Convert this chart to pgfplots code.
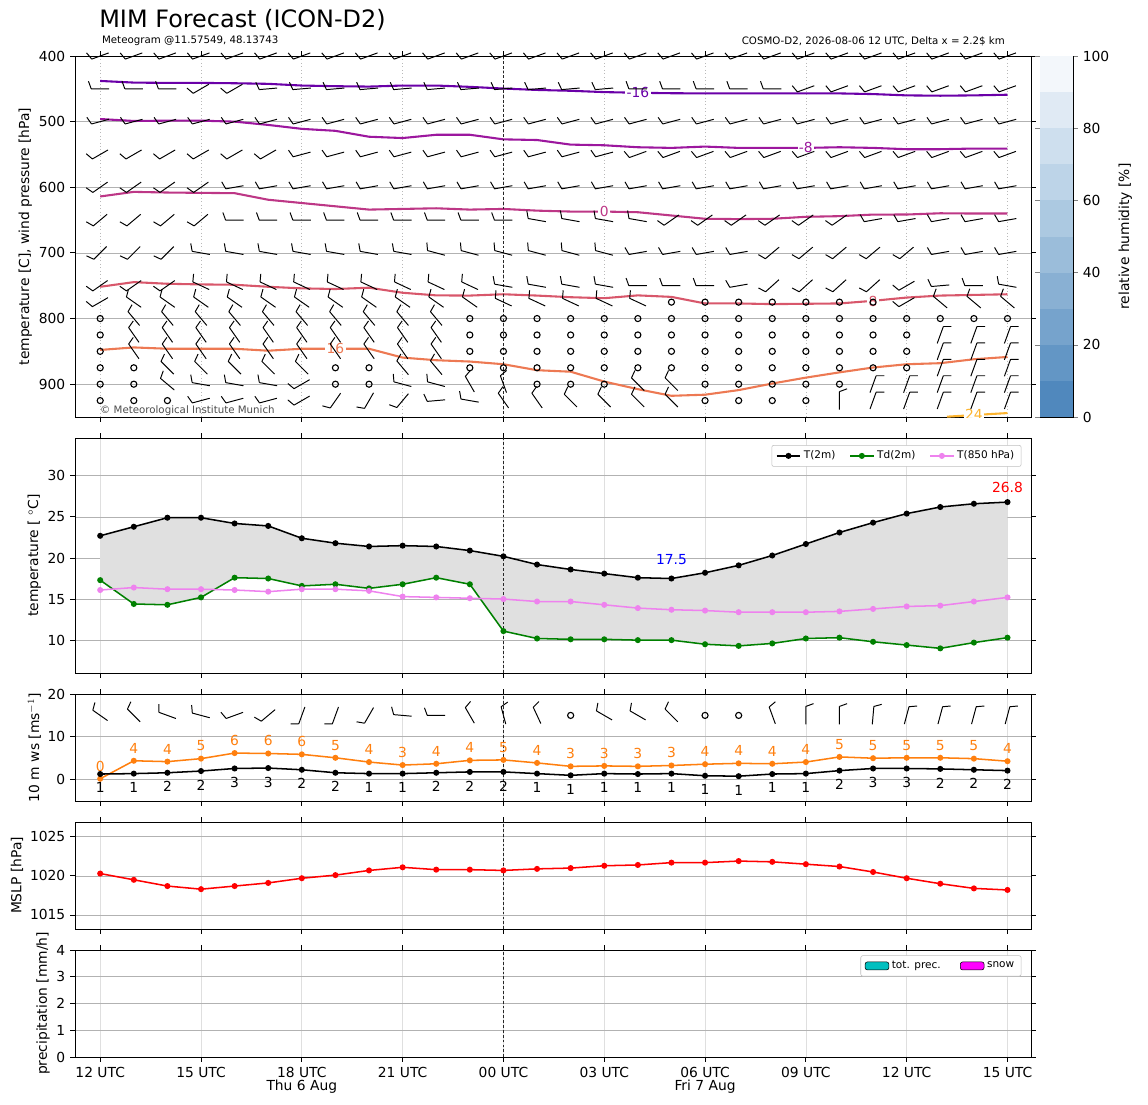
\documentclass[border=0pt]{standalone}
\usepackage{pgfplots}
\pgfplotsset{compat=1.18}
\usepgfplotslibrary{fillbetween}
\usepackage{fontspec}
\setmainfont{DejaVu Sans}
\definecolor{cm16}{HTML}{6A00A8}
\definecolor{cm8}{HTML}{9C179E}
\definecolor{c0}{HTML}{BD3786}
\definecolor{c8}{HTML}{D8576B}
\definecolor{c16}{HTML}{ED7953}
\definecolor{c24}{HTML}{FDB42F}
\definecolor{mplorange}{HTML}{FF7F0E}
\definecolor{mplgreen}{HTML}{008000}
\definecolor{violet2}{HTML}{EE82EE}
\definecolor{pmag}{rgb}{1,0,1}
\pgfdeclareplotmark{barb}{%
  \pgfpathmoveto{\pgfqpoint{-6.5pt}{0pt}}\pgfpathlineto{\pgfqpoint{6.5pt}{0pt}}%
  \pgfpathmoveto{\pgfqpoint{-6.5pt}{0pt}}\pgfpathlineto{\pgfqpoint{-8.5pt}{5.5pt}}%
  \pgfusepathqstroke}
\pgfplotsset{
  mm/.style={scale only axis, width=688.32bp, anchor=north west,
    xmin=-0.75, xmax=27.7, xtick={0,3,...,27}, xticklabels={},
    tick align=outside, major tick length=3.5bp,
    tick style={black, line width=0.6bp},
    xmajorgrids, ymajorgrids,
    x grid style={gray!25, line width=0.5bp},
    y grid style={gray!60, line width=0.55bp},
    axis line style={line width=0.6bp},
    tick label style={font=\fontsize{10}{12}\selectfont},
    label style={font=\fontsize{10}{12}\selectfont},
    /pgf/number format/assume math mode=true,
    ylabel style={yshift=-2bp},
  },
  vdash/.style={black!85, line width=0.4bp, dash pattern=on 2bp off 1.5bp, forget plot},
  barbs/.style={scatter, only marks, mark=barb, line width=0.7bp,
    scatter/use mapped color={draw=black, fill=black},
    visualization depends on={\thisrow{a} \as \ang},
    scatter/@pre marker code/.append code={\pgftransformrotate{\ang}}},
  calm/.style={only marks, mark=o, mark size=2.2bp, black, mark options={line width=0.8bp}},
}
\begin{document}
\begin{tikzpicture}[font=\fontsize{10}{12}\selectfont]
\path (0,0) rectangle (826.56bp,-795.6bp);
\node[anchor=west, font=\fontsize{17.3}{20}\selectfont] at (68bp,-14.5bp) {MIM Forecast (ICON-D2)};
\node[anchor=west, font=\fontsize{7.4}{9}\selectfont] at (70bp,-29.5bp) {Meteogram @11.57549, 48.13743};
\node[anchor=east, font=\fontsize{7.4}{9}\selectfont] at (727bp,-29.5bp) {COSMO-D2, 2026-08-06 12 UTC, Delta x = 2.2\$ km};
% ---------------- panel 1
\begin{axis}[mm, at={(54bp,-40.32bp)}, height=259.92bp,
  x grid style={gray!55, dotted, line width=0.5bp},
  y dir=reverse, ymin=400, ymax=950, ytick={400,500,...,900},
  ylabel={temperature [C], wind pressure [hPa]}]
\addplot[barbs] table[row sep=\\]{t p a\\
0 400 20\\1 400 20\\2 400 20\\3 400 20\\4 400 20\\5 400 20\\6 400 20\\7 400 20\\8 400 20\\9 400 20\\10 400 20\\11 400 20\\12 400 20\\13 400 20\\14 400 20\\15 400 20\\16 400 20\\17 400 20\\18 400 20\\19 400 20\\20 400 20\\21 400 20\\22 400 20\\23 400 20\\24 400 20\\25 400 20\\26 400 20\\27 400 20\\
0 450 0\\1 450 0\\2 450 0\\3 450 30\\4 450 30\\5 450 5\\6 450 5\\7 450 5\\8 450 5\\9 450 5\\10 450 5\\11 450 5\\12 450 5\\13 450 5\\14 450 5\\15 450 5\\16 450 0\\17 450 0\\18 450 0\\19 450 0\\20 450 0\\21 450 20\\22 450 20\\23 450 20\\24 450 20\\25 450 20\\26 450 20\\27 450 20\\
0 500 15\\1 500 15\\2 500 15\\3 500 15\\4 500 15\\5 500 15\\6 500 15\\7 500 15\\8 500 15\\9 500 15\\10 500 15\\11 500 15\\12 500 15\\13 500 15\\14 500 15\\15 500 15\\16 500 15\\17 500 15\\18 500 15\\19 500 15\\20 500 15\\21 500 15\\22 500 15\\23 500 15\\24 500 15\\25 500 15\\26 500 15\\27 500 15\\
0 550 30\\1 550 30\\2 550 30\\3 550 30\\4 550 30\\5 550 30\\6 550 15\\7 550 15\\8 550 15\\9 550 15\\10 550 15\\11 550 15\\12 550 15\\13 550 15\\14 550 15\\15 550 15\\16 550 20\\17 550 20\\18 550 20\\19 550 20\\20 550 20\\21 550 20\\22 550 20\\23 550 20\\24 550 20\\25 550 20\\26 550 20\\27 550 20\\
0 600 35\\1 600 35\\2 600 35\\3 600 35\\4 600 10\\5 600 10\\6 600 10\\7 600 10\\8 600 10\\9 600 10\\10 600 10\\11 600 10\\12 600 10\\13 600 10\\14 600 10\\15 600 10\\16 600 10\\17 600 10\\18 600 10\\19 600 10\\20 600 10\\21 600 10\\22 600 10\\23 600 10\\24 600 10\\25 600 10\\26 600 10\\27 600 10\\
0 650 40\\1 650 40\\2 650 40\\3 650 40\\4 650 0\\5 650 0\\6 650 0\\7 650 0\\8 650 0\\9 650 0\\10 650 0\\11 650 0\\12 650 0\\13 650 -10\\14 650 -10\\15 650 -10\\16 650 -10\\17 650 35\\18 650 35\\19 650 35\\20 650 35\\21 650 35\\22 650 35\\23 650 10\\24 650 10\\25 650 10\\26 650 10\\27 650 10\\
0 700 45\\1 700 45\\2 700 45\\3 700 -10\\4 700 -10\\5 700 -10\\6 700 -10\\7 700 -10\\8 700 -10\\9 700 -10\\10 700 -15\\11 700 -15\\12 700 -15\\13 700 -15\\14 700 -15\\15 700 -15\\16 700 10\\17 700 10\\18 700 10\\19 700 10\\20 700 40\\21 700 40\\22 700 40\\23 700 40\\24 700 40\\25 700 10\\26 700 10\\27 700 10\\
0 750 35\\1 750 35\\2 750 35\\3 750 -25\\4 750 -25\\5 750 -25\\6 750 -25\\7 750 -25\\8 750 -25\\9 750 -25\\10 750 -25\\11 750 -25\\12 750 -10\\13 750 -10\\14 750 -10\\15 750 -10\\16 750 0\\17 750 0\\18 750 0\\19 750 10\\20 750 42\\21 750 42\\22 750 42\\23 750 42\\24 750 30\\25 750 5\\26 750 0\\27 750 -10\\
0 775 30\\1 775 -35\\2 775 -35\\3 775 -35\\4 775 -35\\5 775 -35\\6 775 -35\\7 775 -35\\8 775 -35\\9 775 -35\\10 775 -35\\11 775 -35\\12 775 -25\\13 775 -25\\14 775 -25\\15 775 -25\\16 775 -25\\24 775 30\\25 775 -40\\26 775 -40\\27 775 -40\\
1 800 -50\\2 800 -50\\3 800 -50\\4 800 -50\\5 800 -50\\6 800 -50\\7 800 -50\\8 800 -50\\9 800 -50\\10 800 -50\\
1 825 -55\\2 825 -55\\3 825 -55\\4 825 -55\\5 825 -55\\6 825 -55\\7 825 -55\\8 825 -55\\9 825 -55\\10 825 -55\\25 825 250\\26 825 250\\27 825 250\\
1 850 -55\\2 850 -55\\3 850 -55\\4 850 -55\\5 850 -55\\6 850 -55\\7 850 -55\\8 850 -55\\9 850 -55\\10 850 -55\\25 850 250\\26 850 250\\27 850 250\\
2 875 -45\\3 875 -45\\4 875 -45\\5 875 -45\\6 875 -45\\9 875 -50\\10 875 -50\\25 875 250\\26 875 250\\27 875 250\\
2 900 -40\\3 900 -10\\4 900 -10\\5 900 -10\\6 900 30\\9 900 -15\\10 900 -15\\11 900 -60\\12 900 -70\\16 900 -45\\17 900 -45\\23 900 250\\24 900 250\\25 900 250\\26 900 250\\27 900 250\\
3 925 15\\4 925 15\\5 925 15\\6 925 30\\7 925 55\\8 925 60\\9 925 50\\10 925 5\\11 925 -10\\12 925 -55\\13 925 -55\\14 925 -45\\15 925 -45\\16 925 -45\\17 925 -45\\22 925 270\\23 925 250\\24 925 250\\25 925 250\\26 925 250\\27 925 250\\
};
\addplot[calm] table[row sep=\\]{t p\\
17 775\\18 775\\19 775\\20 775\\21 775\\22 775\\23 775\\
0 800\\11 800\\12 800\\13 800\\14 800\\15 800\\16 800\\17 800\\18 800\\19 800\\20 800\\21 800\\22 800\\23 800\\24 800\\25 800\\26 800\\27 800\\
0 825\\11 825\\12 825\\13 825\\14 825\\15 825\\16 825\\17 825\\18 825\\19 825\\20 825\\21 825\\22 825\\23 825\\24 825\\
0 850\\11 850\\12 850\\13 850\\14 850\\15 850\\16 850\\17 850\\18 850\\19 850\\20 850\\21 850\\22 850\\23 850\\24 850\\
0 875\\1 875\\7 875\\8 875\\11 875\\12 875\\13 875\\14 875\\15 875\\16 875\\17 875\\18 875\\19 875\\20 875\\21 875\\22 875\\23 875\\24 875\\
0 900\\1 900\\7 900\\8 900\\13 900\\14 900\\15 900\\18 900\\19 900\\20 900\\21 900\\22 900\\
0 925\\1 925\\2 925\\18 925\\19 925\\20 925\\21 925\\
};
\addplot[cm16, line width=1.5bp] coordinates {(0,438)(1,440.5)(2,441)(3,441)(4,441.5)(5,442.4)(6,445)(7,446)(8,446.6)(9,445)(10,445)(11,447)(12,449.6)(13,451.7)(14,453)(15,455)(16,456)(17,456.7)(18,457)(19,457)(20,457)(21,457)(22,457)(23,458)(24,460)(25,460.5)(26,460)(27,459)};
\addplot[cm8, line width=1.5bp] coordinates {(0,496)(1,499)(2,498.5)(3,498.5)(4,500)(5,505)(6,511)(7,514)(8,523)(9,525)(10,520)(11,520)(12,527)(13,528)(14,535)(15,536)(16,539)(17,540)(18,538)(19,540)(20,540)(21,540)(22,539)(23,540)(24,542)(25,542)(26,541)(27,541)};
\addplot[c0, line width=1.5bp] coordinates {(0,614)(1,607)(2,608)(3,608.5)(4,609)(5,619)(6,624)(7,629)(8,634)(9,633)(10,632)(11,634)(12,633)(13,635.6)(14,637)(15,637)(16,638)(17,643)(18,648)(19,648.5)(20,648)(21,645)(22,644)(23,641.6)(24,641.5)(25,639.6)(26,640)(27,640)};
\addplot[c8, line width=1.5bp] coordinates {(0,751.6)(1,744.5)(2,747)(3,748)(4,748.5)(5,751.6)(6,754)(7,755)(8,753)(9,760.7)(10,764.7)(11,765)(12,763)(13,765)(14,767.5)(15,769)(16,764.7)(17,767)(18,777)(19,777)(20,778)(21,777.5)(22,777)(23,773)(24,768)(25,765)(26,764)(27,763)};
\addplot[c16, line width=1.5bp] coordinates {(0,847.8)(1,844)(2,846)(3,846)(4,846)(5,849)(6,846)(7,846)(8,846)(9,859.5)(10,863.5)(11,865.5)(12,869.6)(13,878.7)(14,881)(15,896)(16,907.6)(17,917.7)(18,916)(19,909)(20,899)(21,890)(22,882)(23,874.6)(24,869.6)(25,868)(26,862)(27,858.5)};
\addplot[c24, line width=1.5bp] coordinates {(25.2,949.5)(26,947)(27,944)};
\node[fill=white, inner sep=1pt, text=cm16] at (axis cs:16,456) {-16};
\node[fill=white, inner sep=1pt, text=cm8] at (axis cs:21,540) {-8};
\node[fill=white, inner sep=1pt, text=c0] at (axis cs:15,637) {0};
\node[fill=white, inner sep=1pt, text=c8] at (axis cs:23,774) {8};
\node[fill=white, inner sep=1pt, text=c16] at (axis cs:7,846) {16};
\node[fill=white, inner sep=1pt, text=c24] at (axis cs:26,946) {24};
\addplot[vdash] coordinates {(12,400)(12,950)};
\node[anchor=south west, text=black!70, font=\fontsize{7.4}{9}\selectfont, inner sep=1pt] at (axis cs:-0.05,950) {© Meteorological Institute Munich};
\end{axis}
% colorbar
\begin{axis}[scale only axis, anchor=north west, at={(748.8bp,-40.32bp)}, width=23.76bp, height=259.92bp,
  xmin=0, xmax=1, ymin=0, ymax=100, xtick=\empty, ytick={0,20,...,100},
  yticklabel pos=right, ylabel={relative humidity [\%]}, ylabel near ticks,
  tick align=outside, major tick length=3.5bp, axis line style={line width=0.6bp},
  tick label style={font=\fontsize{10}{12}\selectfont}, label style={font=\fontsize{10}{12}\selectfont},
  /pgf/number format/assume math mode=true]
\addplot[fill={rgb,255:red,80;green,136;blue,189}, draw=none] coordinates {(0,0)(1,0)(1,10)(0,10)} -- cycle;
\addplot[fill={rgb,255:red,99;green,150;blue,197}, draw=none] coordinates {(0,10)(1,10)(1,20)(0,20)} -- cycle;
\addplot[fill={rgb,255:red,118;green,163;blue,204}, draw=none] coordinates {(0,20)(1,20)(1,30)(0,30)} -- cycle;
\addplot[fill={rgb,255:red,137;green,176;blue,211}, draw=none] coordinates {(0,30)(1,30)(1,40)(0,40)} -- cycle;
\addplot[fill={rgb,255:red,155;green,189;blue,218}, draw=none] coordinates {(0,40)(1,40)(1,50)(0,50)} -- cycle;
\addplot[fill={rgb,255:red,172;green,201;blue,225}, draw=none] coordinates {(0,50)(1,50)(1,60)(0,60)} -- cycle;
\addplot[fill={rgb,255:red,189;green,212;blue,232}, draw=none] coordinates {(0,60)(1,60)(1,70)(0,70)} -- cycle;
\addplot[fill={rgb,255:red,206;green,223;blue,238}, draw=none] coordinates {(0,70)(1,70)(1,80)(0,80)} -- cycle;
\addplot[fill={rgb,255:red,224;green,234;blue,244}, draw=none] coordinates {(0,80)(1,80)(1,90)(0,90)} -- cycle;
\addplot[fill={rgb,255:red,243;green,247;blue,251}, draw=none] coordinates {(0,90)(1,90)(1,100)(0,100)} -- cycle;
\end{axis}
% ---------------- panel 2
\begin{axis}[mm, at={(54bp,-315.36bp)}, height=169.2bp,
  ymin=6, ymax=34.6, ytick={10,15,...,30},
  ylabel={temperature [ $^\circ$C]},
  legend style={at={(0.99,0.97)}, anchor=north east, font=\fontsize{7.6}{9}\selectfont, legend columns=3, /tikz/every even column/.append style={column sep=8bp}, draw=gray!50, rounded corners=1.5bp}]
\addplot[black, line width=1.1bp, mark=*, mark size=1.6bp, name path=T] coordinates {(0,22.7)(1,23.8)(2,24.9)(3,24.9)(4,24.2)(5,23.9)(6,22.4)(7,21.8)(8,21.4)(9,21.5)(10,21.4)(11,20.9)(12,20.2)(13,19.2)(14,18.6)(15,18.1)(16,17.6)(17,17.5)(18,18.2)(19,19.1)(20,20.3)(21,21.7)(22,23.1)(23,24.3)(24,25.4)(25,26.2)(26,26.6)(27,26.8)};
\addlegendentry{T(2m)}
\addplot[mplgreen, line width=1.1bp, mark=*, mark size=1.6bp, name path=Td] coordinates {(0,17.3)(1,14.4)(2,14.3)(3,15.2)(4,17.6)(5,17.5)(6,16.6)(7,16.8)(8,16.3)(9,16.8)(10,17.6)(11,16.8)(12,11.1)(13,10.2)(14,10.1)(15,10.1)(16,10.0)(17,10.0)(18,9.5)(19,9.3)(20,9.6)(21,10.2)(22,10.3)(23,9.8)(24,9.4)(25,9.0)(26,9.7)(27,10.3)};
\addlegendentry{Td(2m)}
\addplot[violet2, line width=1.1bp, mark=*, mark size=1.6bp] coordinates {(0,16.1)(1,16.4)(2,16.2)(3,16.2)(4,16.1)(5,15.9)(6,16.2)(7,16.2)(8,16.0)(9,15.3)(10,15.2)(11,15.1)(12,15.0)(13,14.7)(14,14.7)(15,14.3)(16,13.9)(17,13.7)(18,13.6)(19,13.4)(20,13.4)(21,13.4)(22,13.5)(23,13.8)(24,14.1)(25,14.2)(26,14.7)(27,15.2)};
\addlegendentry{T(850 hPa)}
\addplot[black!12] fill between[of=T and Td];
\addplot[vdash] coordinates {(12,6)(12,34.6)};
\node[text=red] at (axis cs:27,28.6) {26.8};
\node[text=blue] at (axis cs:17,19.8) {17.5};
\end{axis}
% ---------------- panel 3
\begin{axis}[mm, at={(54bp,-499.68bp)}, height=77.04bp,
  ymin=-5, ymax=20, ytick={0,10,20}, ylabel={10 m ws [ms$^{-1}$]}]
\addplot[mplorange, line width=1.1bp, mark=*, mark size=1.6bp,
  nodes near coords, point meta=explicit symbolic,
  nodes near coords style={anchor=south, yshift=1.5bp, text=mplorange, font=\fontsize{10}{12}\selectfont}]
  table[row sep=\\, meta=l]{t v l\\0 0.2 0\\1 4.4 4\\2 4.2 4\\3 4.9 5\\4 6.2 6\\5 6.1 6\\6 5.9 6\\7 5.1 5\\8 4.1 4\\9 3.4 3\\10 3.7 4\\11 4.5 4\\12 4.6 5\\13 3.9 4\\14 3.1 3\\15 3.2 3\\16 3.1 3\\17 3.3 3\\18 3.6 4\\19 3.8 4\\20 3.7 4\\21 4.1 4\\22 5.3 5\\23 5.0 5\\24 5.1 5\\25 5.1 5\\26 4.9 5\\27 4.3 4\\};
\addplot[black, line width=1.1bp, mark=*, mark size=1.6bp,
  nodes near coords, point meta=explicit symbolic,
  nodes near coords style={anchor=north, yshift=-2.5bp, text=black, font=\fontsize{10}{12}\selectfont}]
  table[row sep=\\, meta=l]{t v l\\0 1.3 1\\1 1.4 1\\2 1.6 2\\3 2.0 2\\4 2.6 3\\5 2.7 3\\6 2.3 2\\7 1.6 2\\8 1.4 1\\9 1.4 1\\10 1.6 2\\11 1.8 2\\12 1.8 2\\13 1.4 1\\14 1.0 1\\15 1.4 1\\16 1.3 1\\17 1.4 1\\18 0.9 1\\19 0.8 1\\20 1.3 1\\21 1.4 1\\22 2.1 2\\23 2.6 3\\24 2.6 3\\25 2.5 2\\26 2.3 2\\27 2.1 2\\};
\addplot[barbs] table[row sep=\\]{t p a\\0 15 -35\\1 15 -45\\2 15 -20\\3 15 -15\\4 15 20\\5 15 40\\6 15 70\\7 15 70\\8 15 60\\9 15 -5\\10 15 0\\11 15 -60\\12 15 -75\\13 15 -65\\15 15 -30\\16 15 -30\\17 15 -45\\20 15 -70\\21 15 270\\22 15 270\\23 15 265\\24 15 255\\25 15 255\\26 15 255\\27 15 255\\};
\addplot[calm] table[row sep=\\]{t p\\14 15\\18 15\\19 15\\};
\addplot[vdash] coordinates {(12,-5)(12,20)};
\end{axis}
% ---------------- panel 4
\begin{axis}[mm, at={(54bp,-591.84bp)}, height=77.04bp,
  ymin=1013.2, ymax=1026.9, ytick={1015,1020,1025}, ylabel={MSLP [hPa]},
  yticklabel style={/pgf/number format/1000 sep={}}]
\addplot[red, line width=1.1bp, mark=*, mark size=1.6bp] coordinates {(0,1020.3)(1,1019.5)(2,1018.7)(3,1018.3)(4,1018.7)(5,1019.1)(6,1019.7)(7,1020.1)(8,1020.7)(9,1021.1)(10,1020.8)(11,1020.8)(12,1020.7)(13,1020.9)(14,1021.0)(15,1021.3)(16,1021.4)(17,1021.7)(18,1021.7)(19,1021.9)(20,1021.8)(21,1021.5)(22,1021.2)(23,1020.5)(24,1019.7)(25,1019.0)(26,1018.4)(27,1018.2)};
\addplot[vdash] coordinates {(12,1013.2)(12,1026.9)};
\end{axis}
% ---------------- panel 5
\begin{axis}[mm, at={(54bp,-684bp)}, height=77.04bp, clip=false,
  ymin=0, ymax=4, ytick={0,1,2,3,4}, ylabel={precipitation [mm/h]},
  xticklabels={12 UTC,15 UTC,18 UTC,21 UTC,00 UTC,03 UTC,06 UTC,09 UTC,12 UTC,15 UTC},
  legend style={at={(0.99,0.95)}, anchor=north east, font=\fontsize{7.6}{9}\selectfont, legend columns=2, /tikz/every even column/.append style={column sep=12bp}, draw=gray!50, rounded corners=1.5bp}]
\addlegendimage{area legend, fill={rgb,255:red,0;green,191;blue,191}, draw=none}
\addlegendentry{tot. prec.}
\addlegendimage{area legend, fill=pmag, draw=none}
\addlegendentry{snow}
\addplot[vdash] coordinates {(12,0)(12,4)};
\node at (axis cs:6,0) [yshift=-21.6bp] {Thu 6 Aug};
\node at (axis cs:18,0) [yshift=-21.6bp] {Fri 7 Aug};
\end{axis}
\end{tikzpicture}
\end{document}
